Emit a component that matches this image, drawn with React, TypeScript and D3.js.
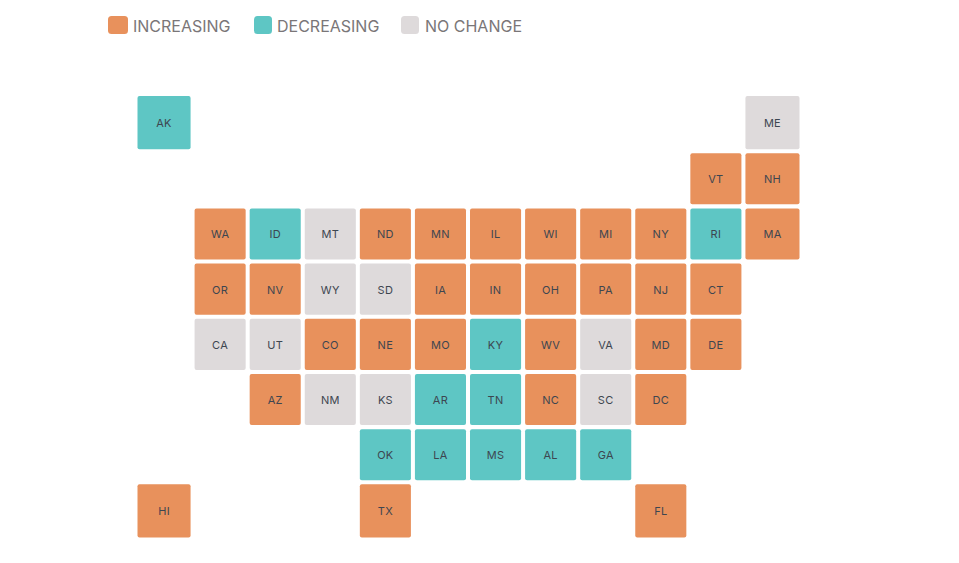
import React from 'react'
import { scaleBand, scaleOrdinal, range } from 'd3'

const WIDTH = 959
const HEIGHT = 563

// tile grid, one list per row, '' is an empty cell
const gridRows: string[][] = [
  ['AK', '', '', '', '', '', '', '', '', '', '', 'ME'],
  ['', '', '', '', '', '', '', '', '', '', 'VT', 'NH'],
  ['', 'WA', 'ID', 'MT', 'ND', 'MN', 'IL', 'WI', 'MI', 'NY', 'RI', 'MA'],
  ['', 'OR', 'NV', 'WY', 'SD', 'IA', 'IN', 'OH', 'PA', 'NJ', 'CT', ''],
  ['', 'CA', 'UT', 'CO', 'NE', 'MO', 'KY', 'WV', 'VA', 'MD', 'DE', ''],
  ['', '', 'AZ', 'NM', 'KS', 'AR', 'TN', 'NC', 'SC', 'DC', '', ''],
  ['', '', '', '', 'OK', 'LA', 'MS', 'AL', 'GA', '', '', ''],
  ['HI', '', '', '', 'TX', '', '', '', '', 'FL', '', '']
]

const decreasing = ['AK', 'ID', 'RI', 'KY', 'AR', 'TN', 'OK', 'LA', 'MS', 'AL', 'GA']
const noChange = ['ME', 'MT', 'WY', 'SD', 'CA', 'UT', 'VA', 'NM', 'KS', 'SC']

const legendLabels = ['INCREASING', 'DECREASING', 'NO CHANGE']
const legendSwatchX = [108, 254, 401]
const legendSwatchW = [20, 18, 18]
const legendTextX = [133, 277, 425]

const statusOf = (s: string) =>
  decreasing.includes(s) ? 'DECREASING' : noChange.includes(s) ? 'NO CHANGE' : 'INCREASING'

const color = scaleOrdinal<string, string>()
  .domain(legendLabels)
  .range(['#e8915c', '#5ec6c4', '#dedadb'])

const FONT = 'Inter, "Open Sans", sans-serif'

export default function App() {
  const lastCol = gridRows[0].length - 1
  const lastRow = gridRows.length - 1

  const x = scaleBand<number>()
    .domain(range(lastCol + 1))
    .range([139.5, 796.5])
    .paddingInner(4 / 55)
  const y = scaleBand<number>()
    .domain(range(lastRow + 1))
    .range([98, 535.5])
    .paddingInner(4 / 55)

  return (
    <svg width={WIDTH} height={HEIGHT} style={{ position: 'absolute', left: 0, top: 0, background: '#fff' }}>
      <g className="legend">
        {legendLabels.map((l, i) => (
          <g key={l}>
            <rect x={legendSwatchX[i]} y={16} width={legendSwatchW[i]} height={18} rx={3.5} fill={color(l)} />
            <text x={legendTextX[i]} y={32} fontFamily={FONT} fontSize={16} fill="#7a7678">
              {l}
            </text>
          </g>
        ))}
      </g>
      <g className="tiles">
        {gridRows.map((cells, r) =>
          cells.map((s, c) => {
            if (!s) return null
            // the outer columns and rows of tiles come out slightly larger
            const left = c === 0 ? 2 : 0
            const right = c === lastCol ? 3 : 0
            const top = r === 0 ? 2 : 0
            const bottom = r === lastRow ? 2 : 0
            const bw = x.bandwidth()
            const bh = y.bandwidth()
            return (
              <g key={s}>
                <rect
                  x={x(c)! - left}
                  y={y(r)! - top}
                  width={bw + left + right}
                  height={bh + top + bottom}
                  rx={2}
                  fill={color(statusOf(s))}
                />
                <text
                  x={x(c)! + (bw + right - left) / 2}
                  y={y(r)! + (bh + bottom - top) / 2 + 0.5}
                  dy="0.36em"
                  textAnchor="middle"
                  fontFamily={FONT}
                  fontSize={11}
                  letterSpacing={0.3}
                  fill="#3d4650"
                >
                  {s}
                </text>
              </g>
            )
          })
        )}
      </g>
    </svg>
  )
}
